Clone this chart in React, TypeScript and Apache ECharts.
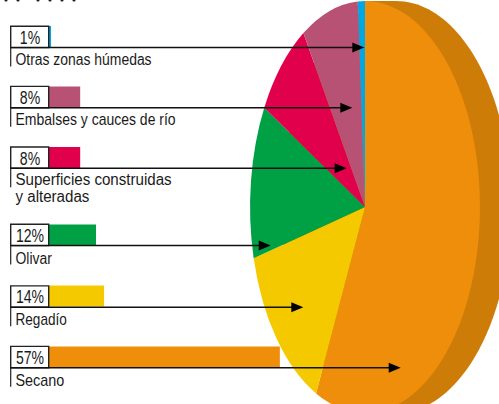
import React, { useEffect, useRef } from "react";
import * as echarts from "echarts";

// Values, listed as in the legend (top to bottom)
const names = ["Otras zonas húmedas", "Embalses y cauces de río", "Superficies construidas\ny alteradas", "Olivar", "Regadío", "Secano"];
const percents = [1, 8, 8, 12, 14, 57];
const percentLabels = ["1%", "8%", "8%", "12%", "14%", "57%"];
const barLengths = [0.5, 7.7, 7.7, 11.6, 13.6, 57];
const colors = ["#00A7E3", "#B85275", "#E0004B", "#00A044", "#F5C900", "#EE8E0A"];
const depthColor = "#CE7C08";

// Legend layout
const rowBottoms = [47.6, 107.7, 168.3, 245.6, 307.2, 367.7];
const rowTips = [364.3, 352.3, 346.7, 270.7, 303.3, 400.7];
const nameScales = [0.87, 0.875, 0.945, 0.87, 0.85, 0.9];
const nameOffsets = [3, 3.2, 3, 4, 3.5, 4];
const fontFamily = "'Liberation Sans', Arial, sans-serif";
const ink = "#222222";
const CX = 365, CY = 207, RX = 115, RY = 206, DEPTH = 31;

function sliceAngles() {
  // clockwise from 12 o'clock, Secano first
  const order = percents.map((_, i) => percents.length - 1 - i);
  const total = percents.reduce((a, b) => a + b, 0);
  let acc = 0;
  return order.map((i) => {
    const start = -Math.PI / 2 + (acc / total) * Math.PI * 2;
    acc += percents[i];
    const end = -Math.PI / 2 + (acc / total) * Math.PI * 2;
    return { i, start, end };
  });
}

function buildOption() {
  const angles = sliceAngles();
  const graphics: any[] = [];
  rowBottoms.forEach((y, i) => {
    const tip = rowTips[i];
    graphics.push(
      { type: "rect", z: 50, shape: { x: 10.7, y: y - 21.3, width: 38, height: 21.3 }, style: { fill: "none", stroke: ink, lineWidth: 1.4 } },
      { type: "line", z: 50, shape: { x1: 10.7, y1: y, x2: 10.7, y2: y + 19 }, style: { stroke: ink, lineWidth: 1.2 } },
      { type: "line", z: 60, shape: { x1: 10.7, y1: y, x2: tip - 6, y2: y }, style: { stroke: "#111111", lineWidth: 1.5 } },
      { type: "polygon", z: 60, shape: { points: [[tip, y], [tip - 12, y - 5], [tip - 12, y + 5]] }, style: { fill: "#000000" } },
      { type: "text", z: 60, x: 30, y: y - 10.5, scaleX: 0.76, style: { text: percentLabels[i], fill: "#1a1a1a", font: `18.5px ${fontFamily}`, textAlign: "center", textVerticalAlign: "middle" } },
      { type: "text", z: 60, x: 15.5, y: y + nameOffsets[i], scaleX: nameScales[i], style: { text: names[i], fill: "#1a1a1a", font: `16px ${fontFamily}`, lineHeight: 17, textVerticalAlign: "top" } }
    );
  });
  const fragments = [6, 18, 38, 50, 62, 74];
  fragments.forEach((x) => graphics.push({ type: "circle", z: 60, shape: { cx: x, cy: 0, r: 1.6 }, style: { fill: ink } }));

  const yAxis = (gridIndex: number, data: string[]) => ({
    type: "category", gridIndex, inverse: true, data, axisLine: { show: false }, axisTick: { show: false }, splitLine: { show: false }, axisLabel: { show: false },
  });
  const xAxis = (gridIndex: number) => ({ type: "value", gridIndex, min: 0, max: 100, show: false });

  return {
    animation: false,
    backgroundColor: "#ffffff",
    grid: [
      { left: 49, width: 405, top: 6.25, height: 181.5 },
      { left: 49, width: 405, top: 204.5, height: 183 },
    ],
    xAxis: [xAxis(0), xAxis(1)],
    yAxis: [yAxis(0, names.slice(0, 3)), yAxis(1, names.slice(3))],
    graphic: { elements: graphics },
    series: [
      {
        type: "custom", coordinateSystem: "none", z: 3, silent: true, data: [percents[5]],
        renderItem: () => ({
          type: "group",
          children: [
            { type: "ellipse", shape: { cx: CX + DEPTH, cy: CY, rx: RX, ry: RY }, style: { fill: depthColor } },
            { type: "rect", shape: { x: CX, y: CY - RY, width: DEPTH, height: RY * 2 }, style: { fill: depthColor } },
          ],
        }),
      },
      {
        type: "custom", coordinateSystem: "none", z: 4, silent: true, data: angles.map((a) => percents[a.i]),
        renderItem: (params: any) => {
          const a = angles[params.dataIndex];
          return {
            type: "sector",
            x: CX, y: CY, scaleX: RX / RY,
            shape: { cx: 0, cy: 0, r: RY, r0: 0, startAngle: a.start, endAngle: a.end, clockwise: true },
            style: { fill: colors[a.i] },
          };
        },
      },
      {
        type: "bar", xAxisIndex: 0, yAxisIndex: 0, z: 5, barWidth: 21, silent: true,
        data: barLengths.slice(0, 3).map((v, i) => ({ value: v, itemStyle: { color: colors[i] } })),
      },
      {
        type: "bar", xAxisIndex: 1, yAxisIndex: 1, z: 5, barWidth: 21, silent: true,
        data: barLengths.slice(3).map((v, i) => ({ value: v, itemStyle: { color: colors[i + 3] } })),
      },
    ],
  };
}

export default function App() {
  const ref = useRef<HTMLDivElement>(null);
  useEffect(() => {
    const chart = echarts.init(ref.current!, undefined, { renderer: "svg" });
    chart.setOption(buildOption() as any);
    return () => chart.dispose();
  }, []);
  return <div ref={ref} style={{ position: "absolute", left: 0, top: 0, width: 499, height: 404 }} />;
}
